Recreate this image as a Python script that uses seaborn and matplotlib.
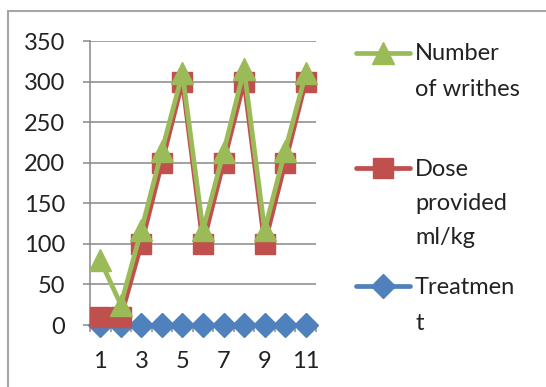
import matplotlib
matplotlib.use("Agg")
import matplotlib.pyplot as plt
from matplotlib.lines import Line2D
from matplotlib.patches import Rectangle
import seaborn as sns
import pandas as pd

# Observation index and the three recorded series
obs = list(range(1, 12))
writhes = [80, 25, 117, 215, 310, 117, 213, 315, 117, 215, 310]
dose = [10, 10, 100, 200, 300, 100, 200, 300, 100, 200, 300]
treatment = [0, 0, 0, 0, 0, 0, 0, 0, 0, 0, 0]

series_names = ["Number of writhes", "Dose provided ml/kg", "Treatment"]
legend_lines = [["Number", "of writhes"], ["Dose", "provided", "ml/kg"], ["Treatmen", "t"]]
x_ticks = [1, 3, 5, 7, 9, 11]
y_ticks = [0, 50, 100, 150, 200, 250, 300, 350]

GREEN = "#9BBB59"
RED = "#C0504D"
BLUE = "#4F81BD"
GRID = "#888888"
FONT = "Lato"

sns.set_theme(style="white")
plt.rcParams["font.family"] = [FONT, "DejaVu Sans"]

W, H = 546, 387
fig = plt.figure(figsize=(W / 100, H / 100), dpi=100)
fig.patch.set_facecolor("white")

def fx(px):
    return px / W

def fy(py):
    return 1 - py / H

ax = fig.add_axes([fx(90), fy(325), fx(316) - fx(90), fy(41) - fy(325)])

df = pd.DataFrame({"obs": obs, "writhes": writhes, "dose": dose, "treatment": treatment})

LW = 3.4
# Draw back to front: treatment, dose, writhes
styles = [
    ("treatment", BLUE, "D", 12),
    ("dose", RED, "s", 14),
    ("writhes", GREEN, "^", 16),
]
for col, color, marker, ms in styles:
    sns.lineplot(data=df, x="obs", y=col, ax=ax, color=color, linewidth=LW,
                 marker=marker, markersize=ms, markeredgecolor=color,
                 markeredgewidth=1, clip_on=False, zorder=3)

ax.set_xlim(0.5, 11.5)
ax.set_ylim(0, 350)
ax.set_xlabel("")
ax.set_ylabel("")

ax.set_yticks(y_ticks)
ax.set_yticklabels([str(v) for v in y_ticks])
ax.yaxis.grid(True, color=GRID, linewidth=1.1)
ax.xaxis.grid(False)
ax.set_axisbelow(True)

ax.set_xticks(x_ticks)
ax.set_xticklabels([str(v) for v in x_ticks])
ax.set_xticks([i + 0.5 for i in range(0, 12)], minor=True)

for side in ["top", "right", "bottom"]:
    ax.spines[side].set_visible(False)
ax.spines["left"].set_color(GRID)
ax.spines["left"].set_linewidth(1.1)

ax.tick_params(axis="y", which="major", length=5, width=1.1, color=GRID,
               pad=13, labelsize=17, labelcolor="#222222", left=True)
ax.tick_params(axis="x", which="major", length=0, pad=19, labelsize=17,
               labelcolor="#222222", bottom=True)
ax.tick_params(axis="x", which="minor", length=5, width=1.1, color=GRID,
               direction="out", bottom=True)
ax.axhline(0, color=GRID, linewidth=1.1, zorder=2)

# Legend built at the right of the plot area
legend_rows = [
    (GREEN, "^", 16, 53, [52, 87]),
    (RED, "s", 14, 168, [167, 202, 236]),
    (BLUE, "D", 12, 286, [286, 321]),
]
for (color, marker, ms, ly, ty), lines in zip(legend_rows, legend_lines):
    fig.add_artist(Line2D([fx(356), fx(410)], [fy(ly), fy(ly)], color=color,
                          linewidth=LW, solid_capstyle="round"))
    fig.add_artist(Line2D([fx(383)], [fy(ly)], color=color, marker=marker,
                          markersize=ms, markeredgecolor=color, linestyle="none"))
    for text, yy in zip(lines, ty):
        fig.text(fx(415), fy(yy), text, fontsize=17, color="#222222",
                 ha="left", va="center_baseline")

# Chart frame
fig.add_artist(Rectangle((fx(7.5), fy(H + 20)), fx(W + 20), fy(11) - fy(H + 20),
                         transform=fig.transFigure, fill=False,
                         edgecolor="#A6A6A6", linewidth=1.5))

fig.savefig("out.png", dpi=100, facecolor="white")
